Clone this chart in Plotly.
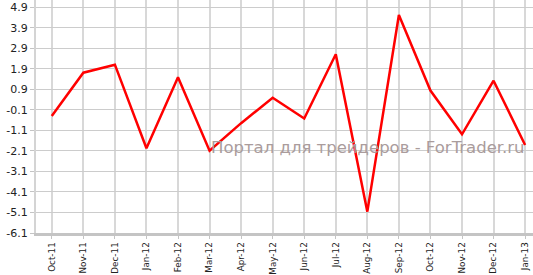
import plotly.graph_objects as go

months = ["Oct-11", "Nov-11", "Dec-11", "Jan-12", "Feb-12", "Mar-12", "Apr-12", "May-12",
          "Jun-12", "Jul-12", "Aug-12", "Sep-12", "Oct-12", "Nov-12", "Dec-12", "Jan-13"]
values = [-0.40, 1.71, 2.10, -1.97, 1.49, -2.09, -0.75, 0.49,
          -0.52, 2.61, -5.06, 4.52, 0.84, -1.29, 1.32, -1.81]
ytick_vals = [-6.1, -5.1, -4.1, -3.1, -2.1, -1.1, -0.1, 0.9, 1.9, 2.9, 3.9, 4.9]
ytick_text = ["-6.1", "-5.1", "-4.1", "-3.1", "-2.1", "-1.1", "-0.1", "0.9", "1.9", "2.9", "3.9", "4.9"]
watermark = "Портал для трейдеров - ForTrader.ru"

x_idx = list(range(len(months)))

fig = go.Figure()
fig.add_trace(go.Scatter(x=x_idx, y=values, mode="lines",
                         line=dict(color="#ff0000", width=2.5), hoverinfo="skip"))

fig.add_annotation(text=watermark, xref="paper", yref="paper", x=0.987, y=0.365,
                   xanchor="right", yanchor="middle", showarrow=False,
                   font=dict(family="DejaVu Sans", size=16.5, color="#aa9c9c"))

fig.update_layout(
    width=533, height=275,
    margin=dict(l=36, r=0, t=0, b=42, autoexpand=False),
    paper_bgcolor="white", plot_bgcolor="white",
    showlegend=False,
    font=dict(family="DejaVu Sans", color="#222222"),
)
fig.update_xaxes(
    range=[-0.5, 15.25], automargin=False,
    tickvals=x_idx, ticktext=months, tickangle=-90,
    tickfont=dict(size=8.8, color="#222222"),
    showgrid=True, gridcolor="#d8d8d8", gridwidth=1.6,
    showline=True, linecolor="#c4c4c4", linewidth=2.5,
    ticks="outside", ticklen=3, tickcolor="#c4c4c4",
    zeroline=False,
)
fig.update_yaxes(
    range=[-6.1, 5.25], automargin=False,
    tickvals=ytick_vals, ticktext=ytick_text,
    tickfont=dict(size=11, color="#222222"),
    showgrid=True, gridcolor="#cccccc", gridwidth=1,
    showline=True, linecolor="#d4d4d4", linewidth=2,
    ticks="outside", ticklen=4, tickcolor="#c4c4c4",
    zeroline=False,
)

fig.write_html("out.html")
